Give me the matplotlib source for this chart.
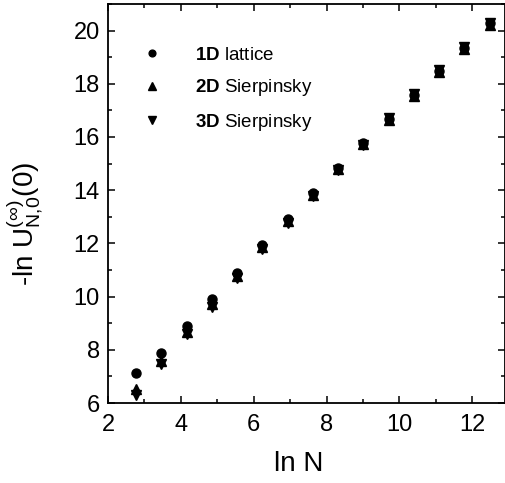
import numpy as np
import matplotlib
matplotlib.use("Agg")
import matplotlib.pyplot as plt
from matplotlib.ticker import MultipleLocator

# ln N for N = 2^4 ... 2^18
ln_n = np.log(2.0 ** np.arange(4, 19))

lattice_1d = [7.13, 7.89, 8.89, 9.90, 10.90, 11.93, 12.90, 13.88, 14.83,
              15.77, 16.68, 17.58, 18.48, 19.36, 20.27]
sierp_2d = [6.52, 7.58, 8.68, 9.72, 10.78, 11.85, 12.83, 13.82, 14.78,
            15.72, 16.62, 17.54, 18.44, 19.31, 20.21]
sierp_3d = [6.32, 7.45, 8.58, 9.62, 10.70, 11.78, 12.78, 13.78, 14.75,
            15.70, 16.70, 17.60, 18.51, 19.39, 20.30]

plt.rcParams["font.family"] = ["Liberation Sans", "DejaVu Sans"]
plt.rcParams["mathtext.fontset"] = "custom"
plt.rcParams["mathtext.rm"] = "Liberation Sans"
plt.rcParams["mathtext.it"] = "Liberation Sans"
plt.rcParams["mathtext.bf"] = "Liberation Sans:bold"

fig = plt.figure(figsize=(5.06, 4.83), dpi=100)
ax = fig.add_axes([0.2134, 0.1656, 0.7846, 0.8262])

ax.plot(ln_n, lattice_1d, "o", color="black", ms=6.5, label=r"$\mathbf{1D}$ lattice")
ax.plot(ln_n, sierp_2d, "^", color="black", ms=7, label=r"$\mathbf{2D}$ Sierpinsky")
ax.plot(ln_n, sierp_3d, "v", color="black", ms=7, label=r"$\mathbf{3D}$ Sierpinsky")

ax.set_xlim(2, 12.9)
ax.set_ylim(6, 21)
ax.xaxis.set_major_locator(MultipleLocator(2))
ax.xaxis.set_minor_locator(MultipleLocator(1))
ax.yaxis.set_major_locator(MultipleLocator(2))
ax.yaxis.set_minor_locator(MultipleLocator(1))
ax.tick_params(which="both", direction="in", top=True, right=True,
               width=1.1, labelsize=17)
ax.tick_params(which="major", length=5)
ax.tick_params(which="minor", length=3)
ax.tick_params(axis="x", pad=8)
ax.tick_params(axis="y", pad=6)
for s in ax.spines.values():
    s.set_linewidth(1.3)

ax.set_xlabel("ln N", fontsize=20)
ax.xaxis.set_label_coords(0.481, -0.12)
ax.set_ylabel(r"-ln U$_{\mathrm{N{,}0}}^{(\infty)}$(0)", fontsize=20)
ax.yaxis.set_label_coords(-0.155, 0.45)

ax.legend(loc="upper left", frameon=False, fontsize=13.5, markerscale=0.75,
          handletextpad=1.3, labelspacing=0.72,
          bbox_to_anchor=(0.02, 0.935))

fig.savefig("out.png", dpi=100)
